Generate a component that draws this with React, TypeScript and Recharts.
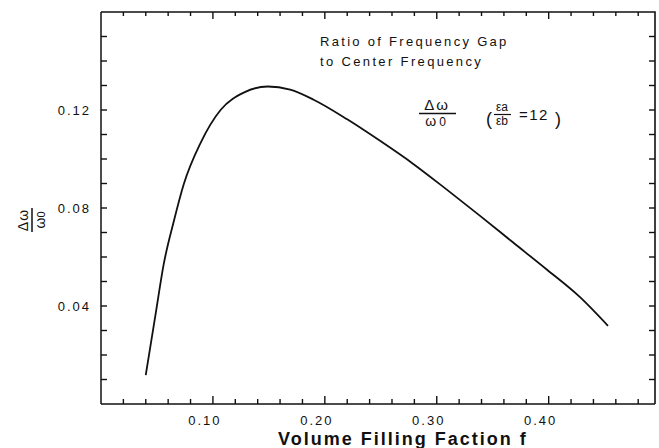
import React from "react";
import { LineChart, Line, XAxis, YAxis, CartesianGrid } from "recharts";

// curve: volume filling fraction f vs. gap ratio
const fillFraction = [0.040, 0.049, 0.056, 0.065, 0.074, 0.089, 0.107, 0.128, 0.149, 0.169, 0.190, 0.220, 0.250, 0.279, 0.309, 0.339, 0.368, 0.398, 0.428, 0.453];
const gapRatio = [0.0118, 0.0373, 0.0570, 0.0745, 0.0898, 0.1066, 0.1201, 0.1272, 0.1296, 0.1283, 0.1242, 0.1162, 0.1072, 0.0980, 0.0875, 0.0767, 0.0660, 0.0550, 0.0436, 0.0319];

const xDomain = [0, 0.495];
const xTicks = [0.02, 0.04, 0.06, 0.08, 0.1, 0.12, 0.14, 0.16, 0.18, 0.2, 0.22, 0.24, 0.26, 0.28, 0.3, 0.32, 0.34, 0.36, 0.38, 0.4, 0.42, 0.44, 0.46, 0.48];
const xMajor = [0.1, 0.2, 0.3, 0.4];
const xMajorLabels = ["0.10", "0.20", "0.30", "0.40"];

const yDomain = [0, 0.16];
const yTicks = [0.01, 0.02, 0.03, 0.04, 0.05, 0.06, 0.07, 0.08, 0.09, 0.1, 0.11, 0.12, 0.13, 0.14, 0.15];
const yMajor = [0.04, 0.08, 0.12];
const yMajorLabels = ["0.04", "0.08", "0.12"];

const W = 659;
const H = 448;
const MARGIN = { top: 12, right: 4, left: 0, bottom: 0 };
const Y_AXIS_W = 101;
const X_AXIS_H = 44;
const PLOT_LEFT = MARGIN.left + Y_AXIS_W;
const PLOT_TOP = MARGIN.top;
const PLOT_RIGHT = W - MARGIN.right;
const PLOT_BOTTOM = H - MARGIN.bottom - X_AXIS_H;

const INK = "#111";
const FONT = "'Liberation Sans', Arial, sans-serif";

const data = fillFraction.map((f, i) => ({ f, gap: gapRatio[i] }));

const findIdx = (arr: number[], v: number) => arr.findIndex((m) => Math.abs(m - v) < 1e-6);

// ticks point inward on all four sides, labels only on bottom/left
const BottomTick = (props: any) => {
  const { x, y, payload } = props;
  const idx = findIdx(xMajor, payload.value);
  const len = idx >= 0 ? 8 : 5;
  return (
    <g>
      <line x1={x} x2={x} y1={y} y2={y - len} stroke={INK} strokeWidth={1.4} />
      <line x1={x} x2={x} y1={PLOT_TOP} y2={PLOT_TOP + len - 1} stroke={INK} strokeWidth={1.4} />
      {idx >= 0 && (
        <text x={x - 8} y={y + 21} textAnchor="middle" fontSize={13} letterSpacing={2} fill={INK} fontFamily={FONT}>
          {xMajorLabels[idx]}
        </text>
      )}
    </g>
  );
};

const LeftTick = (props: any) => {
  const { x, y, payload } = props;
  const idx = findIdx(yMajor, payload.value);
  return (
    <g>
      <line x1={x} x2={x + 6} y1={y} y2={y} stroke={INK} strokeWidth={1.4} />
      <line x1={PLOT_RIGHT} x2={PLOT_RIGHT - 6} y1={y} y2={y} stroke={INK} strokeWidth={1.4} />
      {idx >= 0 && (
        <text x={x - 10} y={y + 5} textAnchor="end" fontSize={13} letterSpacing={2} fill={INK} fontFamily={FONT}>
          {yMajorLabels[idx]}
        </text>
      )}
    </g>
  );
};

export default function App() {
  return (
    <div style={{ position: "absolute", left: 0, top: 0, width: W, height: H, background: "#fff" }}>
      <svg
        width={W}
        height={H}
        style={{ position: "absolute", left: 0, top: 0, pointerEvents: "none" }}
      >
        {/* top and right frame edges */}
        <path
          d={`M${PLOT_LEFT},${PLOT_TOP}H${PLOT_RIGHT}V${PLOT_BOTTOM}`}
          stroke={INK}
          strokeWidth={1.6}
          fill="none"
        />
      </svg>
      <LineChart width={W} height={H} data={data} margin={MARGIN}>
        <CartesianGrid
          horizontal={false}
          vertical={false}
          stroke={INK}
        />
        <XAxis
          dataKey="f"
          type="number"
          domain={xDomain}
          ticks={xTicks}
          interval={0}
          allowDataOverflow
          height={X_AXIS_H}
          tickSize={0}
          tickMargin={0}
          tickLine={false}
          tick={<BottomTick />}
          axisLine={{ stroke: INK, strokeWidth: 1.5 }}
        />
        <YAxis
          type="number"
          domain={yDomain}
          ticks={yTicks}
          interval={0}
          allowDataOverflow
          width={Y_AXIS_W}
          tickSize={0}
          tickMargin={0}
          tickLine={false}
          tick={<LeftTick />}
          axisLine={{ stroke: INK, strokeWidth: 1.5 }}
        />

        <Line
          dataKey="gap"
          type="monotone"
          stroke={INK}
          strokeWidth={1.8}
          dot={false}
          isAnimationActive={false}
        />

        {/* axis titles */}
        <text x={278} y={445} fontSize={18} fontWeight="bold" letterSpacing={2} fill={INK} fontFamily={FONT}>
          Volume Filling Faction f
        </text>
        <g transform="translate(32,220) rotate(-90)" fontFamily={FONT} fill={INK}>
          <text x={0} y={-4} textAnchor="middle" fontSize={14} letterSpacing={1}>Δω</text>
          <line x1={-12} x2={12} y1={0} y2={0} stroke={INK} strokeWidth={1.5} />
          <text x={0} y={13} textAnchor="middle" fontSize={14}>ω<tspan fontSize={11}>0</tspan></text>
        </g>

        {/* annotation */}
        <g fontFamily={FONT} fill={INK}>
          <text x={320} y={46} fontSize={13} letterSpacing={2.3}>Ratio of Frequency Gap</text>
          <text x={320} y={66} fontSize={13} letterSpacing={2.35}>to Center Frequency</text>
          <text x={437} y={110} textAnchor="middle" fontSize={15} letterSpacing={2}>Δω</text>
          <line x1={419} x2={456} y1={113.5} y2={113.5} stroke={INK} strokeWidth={1.3} />
          <text x={437} y={126} textAnchor="middle" fontSize={14} letterSpacing={3}>ω<tspan fontSize={12}>0</tspan></text>
          <text x={486} y={125} fontSize={18}>(</text>
          <text x={502} y={111} textAnchor="middle" fontSize={12}>εa</text>
          <line x1={494} x2={511} y1={114.5} y2={114.5} stroke={INK} strokeWidth={1.2} />
          <text x={502} y={125} textAnchor="middle" fontSize={12}>εb</text>
          <text x={519} y={120} fontSize={15} letterSpacing={1.5}>=12</text>
          <text x={555} y={125} fontSize={18}>)</text>
        </g>
      </LineChart>
    </div>
  );
}
